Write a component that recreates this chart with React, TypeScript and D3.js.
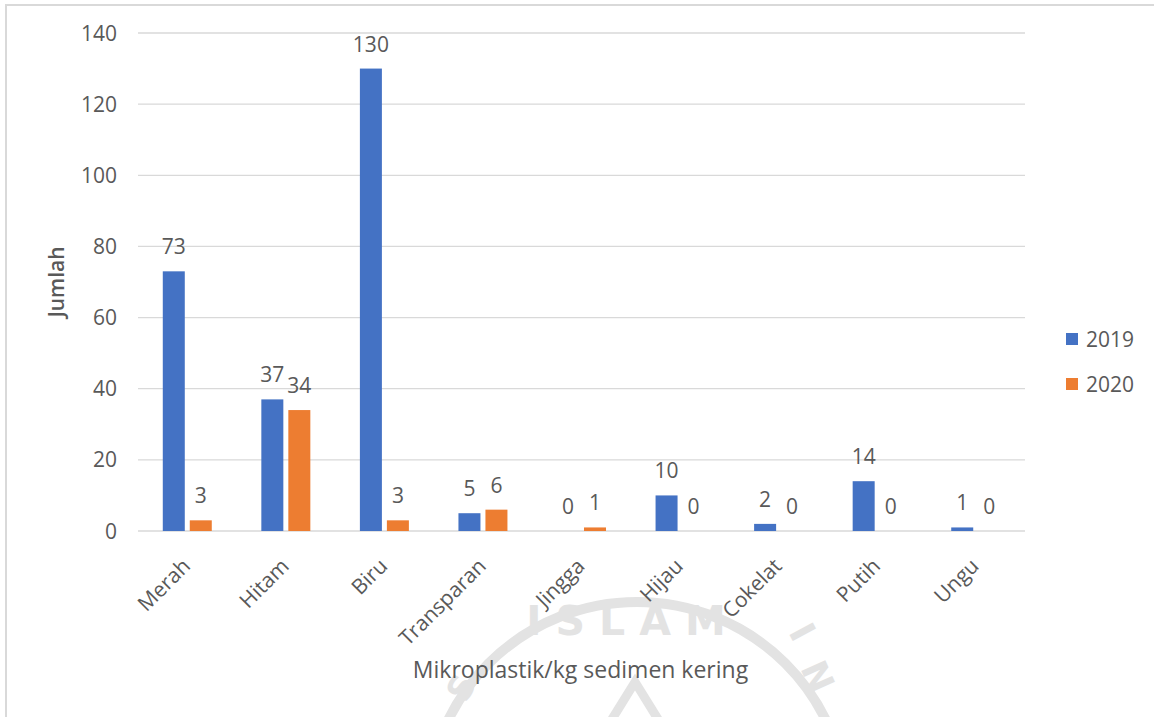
import React from "react";
import * as d3 from "d3";

const categories = ["Merah", "Hitam", "Biru", "Transparan", "Jingga", "Hijau", "Cokelat", "Putih", "Ungu"];
const seriesNames = ["2019", "2020"];
const values2019 = [73, 37, 130, 5, 0, 10, 2, 14, 1];
const values2020 = [3, 34, 3, 6, 1, 0, 0, 0, 0];
const yTicks = [0, 20, 40, 60, 80, 100, 120, 140];
const colors = ["#4472C4", "#ED7D31"];

const W = 1154;
const H = 717;
const FONT = "'Open Sans', 'Noto Sans', sans-serif";
const TEXT = "#595959";
const SEAL = "#e3e3e3";

export default function App() {
  const left = 138;
  const right = 1025;
  const top = 33;
  const bottom = 531;

  const x0 = d3.scaleBand<string>().domain(categories).range([left, right]).padding(0);
  const x1 = d3
    .scaleBand<string>()
    .domain(seriesNames)
    .range([0, x0.bandwidth()])
    .paddingInner(0.185)
    .paddingOuter(0.918);
  const y = d3.scaleLinear().domain([0, 140]).range([bottom, top]);

  const series = [values2019, values2020];

  return (
    <svg
      width={W}
      height={H}
      style={{ position: "absolute", left: 0, top: 0, background: "#fff" }}
      fontFamily={FONT}
    >
      <rect x={0} y={0} width={W} height={H} fill="#fff" />
      {/* outer frame */}
      <rect x={6} y={5} width={W + 20} height={H + 20} fill="none" stroke="#d9d9d9" strokeWidth={2} />

      {/* faint seal in the background */}
      <g fontFamily="'DejaVu Sans', sans-serif" fontWeight="bold" fill={SEAL}>
        <circle cx={637} cy={812} r={210} fill="none" stroke={SEAL} strokeWidth={10} />
        <text x={633} y={635} textAnchor="middle" fontSize={41} letterSpacing={14}>
          ISLAM
        </text>
        <text transform="translate(788,632) rotate(62)" fontSize={36}>I</text>
        <text transform="translate(800,668) rotate(66)" fontSize={36}>N</text>
        <text transform="translate(466,704) rotate(-62)" fontSize={34}>S</text>
        <path d="M635,682 L596,745 L674,745 Z" fill="none" stroke={SEAL} strokeWidth={9} />
      </g>

      {/* gridlines */}
      {yTicks.map((t) => (
        <line key={t} x1={left} x2={right} y1={y(t)} y2={y(t)} stroke="#d9d9d9" strokeWidth={1.3} />
      ))}

      {/* y tick labels */}
      {yTicks.map((t) => (
        <text key={t} x={117} y={y(t)} dy="0.36em" textAnchor="end" fontSize={21} fill={TEXT}>
          {t}
        </text>
      ))}

      {/* bars */}
      {categories.map((c, i) => (
        <g key={c} transform={`translate(${x0(c)},0)`}>
          {seriesNames.map((s, k) => {
            const v = series[k][i];
            return (
              <rect
                key={s}
                x={x1(s)}
                y={y(v)}
                width={x1.bandwidth()}
                height={bottom - y(v)}
                fill={colors[k]}
              />
            );
          })}
          {seriesNames.map((s, k) => {
            const v = series[k][i];
            return (
              <text
                key={s}
                x={(x1(s) ?? 0) + x1.bandwidth() / 2}
                y={y(v) - 17}
                textAnchor="middle"
                fontSize={21}
                fill={TEXT}
              >
                {v}
              </text>
            );
          })}
        </g>
      ))}

      {/* category labels */}
      {categories.map((c) => {
        const cx = (x0(c) ?? 0) + x0.bandwidth() / 2;
        return (
          <text
            key={c}
            transform={`translate(${cx - 6},${bottom + 26}) rotate(-45)`}
            textAnchor="end"
            dy="0.7em"
            fontSize={21}
            fill={TEXT}
          >
            {c}
          </text>
        );
      })}

      {/* axis titles */}
      <text
        transform={`translate(56,${(top + bottom) / 2}) rotate(-90)`}
        textAnchor="middle"
        dy="0.36em"
        fontSize={21}
        fontWeight={600}
        fill={TEXT}
      >
        Jumlah
      </text>
      <text x={(left + right) / 2 - 1} y={678} textAnchor="middle" fontSize={23} fill={TEXT}>
        Mikroplastik/kg sedimen kering
      </text>

      {/* legend */}
      {seriesNames.map((s, k) => (
        <g key={s} transform={`translate(1066,${339 + k * 45})`}>
          <rect x={0} y={-6} width={12} height={12} fill={colors[k]} />
          <text x={20} y={0} dy="0.36em" fontSize={21} fill={TEXT}>
            {s}
          </text>
        </g>
      ))}
    </svg>
  );
}
